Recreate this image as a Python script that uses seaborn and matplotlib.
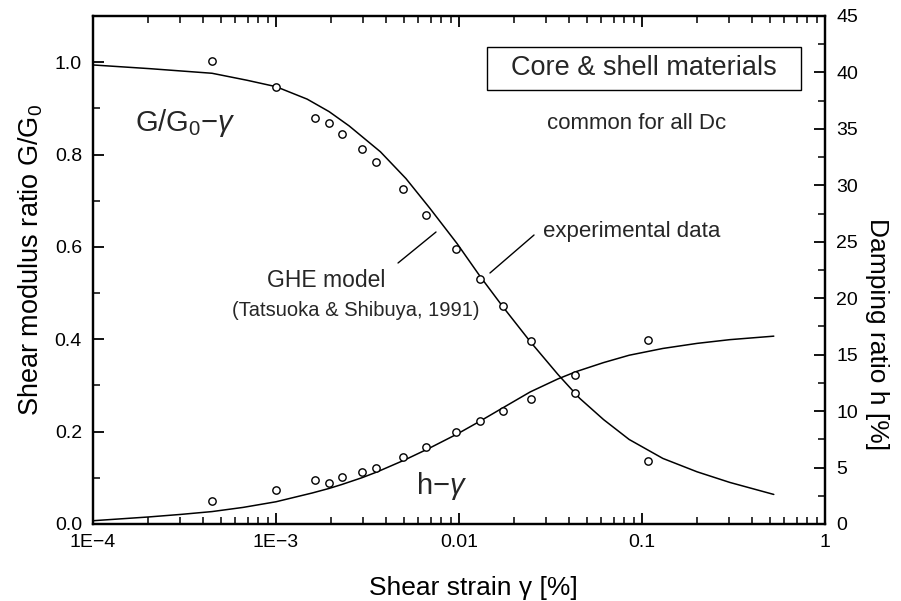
import numpy as np
import pandas as pd
import matplotlib
matplotlib.use("Agg")
import matplotlib.pyplot as plt
from matplotlib.patches import Rectangle
from matplotlib.ticker import FixedLocator, MultipleLocator, NullFormatter, LogLocator
import seaborn as sns

# ---------------- data ----------------
# experimental points: shear strain [%]
strain_pts = [4.47e-4, 1.0e-3, 1.63e-3, 1.95e-3, 2.29e-3, 2.95e-3, 3.53e-3,
              4.94e-3, 6.63e-3, 9.59e-3, 1.31e-2, 1.74e-2, 2.48e-2, 4.29e-2, 0.1074]
# G/G0 experimental
gg0_pts = [1.002, 0.947, 0.880, 0.869, 0.844, 0.813, 0.783,
           0.725, 0.669, 0.595, 0.531, 0.473, 0.397, 0.284, 0.137]
# damping ratio h [%] experimental
h_pts = [2.03, 2.98, 3.89, 3.65, 4.16, 4.57, 4.93,
         5.90, 6.80, 8.11, 9.11, 10.02, 11.05, 13.20, 16.33]

# GHE model curve G/G0
strain_g_curve = [1.0e-4, 2.04e-4, 4.47e-4, 6.92e-4, 1.0e-3, 1.48e-3, 1.95e-3, 2.51e-3,
                  3.72e-3, 5.13e-3, 6.92e-3, 9.77e-3, 1.30e-2, 1.74e-2, 2.45e-2, 3.47e-2,
                  4.57e-2, 6.17e-2, 8.51e-2, 0.130, 0.200, 0.302, 0.525]
gg0_curve = [0.994, 0.986, 0.976, 0.961, 0.947, 0.920, 0.893, 0.862,
             0.806, 0.748, 0.684, 0.607, 0.537, 0.470, 0.395, 0.324,
             0.272, 0.226, 0.183, 0.142, 0.113, 0.090, 0.064]

# GHE model curve h [%]
strain_h_curve = [1.0e-4, 2.0e-4, 3.02e-4, 4.47e-4, 6.61e-4, 1.0e-3, 1.58e-3, 1.95e-3,
                  2.29e-3, 2.95e-3, 3.55e-3, 5.01e-3, 6.76e-3, 9.77e-3, 1.30e-2, 1.74e-2,
                  2.45e-2, 3.47e-2, 4.37e-2, 6.17e-2, 8.51e-2, 0.130, 0.200, 0.302, 0.525]
h_curve = [0.29, 0.62, 0.85, 1.10, 1.47, 1.97, 2.75, 3.15,
           3.50, 4.10, 4.60, 5.65, 6.65, 7.97, 9.10, 10.30,
           11.70, 12.85, 13.50, 14.30, 14.95, 15.55, 16.00, 16.33, 16.64]

x_ticks = [1e-4, 1e-3, 1e-2, 1e-1, 1]
x_ticklabels = ["1E\u22124", "1E\u22123", "0.01", "0.1", "1"]
gg0_ticks = [0.0, 0.2, 0.4, 0.6, 0.8, 1.0]
gg0_ticklabels = ["0.0", "0.2", "0.4", "0.6", "0.8", "1.0"]
h_ticks = [0, 5, 10, 15, 20, 25, 30, 35, 40, 45]

# ---------------- style ----------------
sns.set_theme(style="ticks")
plt.rcParams['font.family'] = ['Liberation Sans', 'DejaVu Sans']
plt.rcParams['mathtext.fontset'] = 'custom'
plt.rcParams['mathtext.rm'] = 'Liberation Sans'
plt.rcParams['mathtext.it'] = 'Liberation Sans:italic'
plt.rcParams['mathtext.default'] = 'rm'

fig = plt.figure(figsize=(9.01, 6.01), dpi=100)
L, R, T, B = 93, 825, 16, 524
ax = fig.add_axes([L / 901, 1 - B / 601, (R - L) / 901, (B - T) / 601])
ax2 = ax.twinx()

# ---------------- plot ----------------
dg = pd.DataFrame({"strain": strain_g_curve, "G": gg0_curve})
dh = pd.DataFrame({"strain": strain_h_curve, "h": h_curve})
dp = pd.DataFrame({"strain": strain_pts, "G": gg0_pts, "h": h_pts})

sns.lineplot(data=dg, x="strain", y="G", ax=ax, color="black", lw=1.1,
             sort=False, estimator=None, zorder=2)
sns.scatterplot(data=dp, x="strain", y="G", ax=ax, marker="o", color="white",
                edgecolor="black", linewidth=1.0, s=28, zorder=3)
sns.lineplot(data=dh, x="strain", y="h", ax=ax2, color="black", lw=1.1,
             sort=False, estimator=None, zorder=2)
sns.scatterplot(data=dp, x="strain", y="h", ax=ax2, marker="o", color="white",
                edgecolor="black", linewidth=1.0, s=28, zorder=3)

# ---------------- axes ----------------
ax.set_xscale("log")
ax.set_xlim(1e-4, 1)
ax.set_ylim(0, 1.1)
ax2.set_ylim(0, 45)

ax.xaxis.set_major_locator(FixedLocator(x_ticks))
ax.set_xticklabels(x_ticklabels)
ax.xaxis.set_minor_locator(LogLocator(base=10, subs=np.arange(2, 10)))
ax.xaxis.set_minor_formatter(NullFormatter())

ax.yaxis.set_major_locator(FixedLocator(gg0_ticks))
ax.set_yticklabels(gg0_ticklabels)
ax.yaxis.set_minor_locator(MultipleLocator(0.1))
ax2.yaxis.set_major_locator(FixedLocator(h_ticks))
ax2.set_yticklabels([str(v) for v in h_ticks])
ax2.yaxis.set_minor_locator(MultipleLocator(2.5))

for a in (ax, ax2):
    for s in a.spines.values():
        s.set_linewidth(1.6)
        s.set_color("black")

ax.tick_params(axis="x", which="both", direction="in", top=True, bottom=True,
               colors="black", labelsize=14, pad=7)
ax.tick_params(axis="y", which="both", direction="in", left=True, right=False,
               colors="black", labelsize=14, pad=8)
ax2.tick_params(axis="y", which="both", direction="in", right=True, left=False,
                colors="black", labelsize=14, pad=8)
for a in (ax, ax2):
    a.tick_params(which="major", length=8, width=1.3)
    a.tick_params(which="minor", length=5, width=1.1)

ax.set_xlabel("Shear strain \u03b3 [%]", fontsize=19, color="black")
ax.xaxis.set_label_coords(0.52, -0.103)
ax.set_ylabel("Shear modulus ratio G/G$_0$", fontsize=19.5, color="black")
ax.yaxis.set_label_coords(-0.066, 0.52)
ax2.set_ylabel("Damping ratio h [%]", fontsize=19, color="black", rotation=270,
               va="bottom")
ax2.yaxis.set_label_coords(1.055, 0.374)

# ---------------- annotations ----------------
ax.text(0.0574, 0.789, "G/G$_0$\u2212$\\mathit{\u03b3}$", transform=ax.transAxes,
        fontsize=21, ha="left", va="center")
ax.text(0.441, 0.0748, "h\u2212$\\mathit{\u03b3}$", transform=ax.transAxes,
        fontsize=21, ha="left", va="center")

ax.add_patch(Rectangle((0.5383, 0.8543), 0.429, 0.0846, transform=ax.transAxes,
                       fill=False, edgecolor="black", lw=1.0, zorder=4))
ax.text(0.753, 0.897, "Core & shell materials", transform=ax.transAxes,
        fontsize=19.5, ha="center", va="center")
ax.text(0.742, 0.789, "common for all Dc", transform=ax.transAxes,
        fontsize=16, ha="center", va="center")

ax.text(0.615, 0.575, "experimental data", transform=ax.transAxes,
        fontsize=16, ha="left", va="center")
ax.plot([0.6025, 0.5423], [0.5689, 0.4941], transform=ax.transAxes,
        color="black", lw=1.0)
ax.text(0.318, 0.480, "GHE model", transform=ax.transAxes,
        fontsize=16.5, ha="center", va="center")
ax.text(0.359, 0.421, "(Tatsuoka & Shibuya, 1991)", transform=ax.transAxes,
        fontsize=14.5, ha="center", va="center")
ax.plot([0.4167, 0.4686], [0.5138, 0.5748], transform=ax.transAxes,
        color="black", lw=1.0)

fig.savefig("out.png", dpi=100)
